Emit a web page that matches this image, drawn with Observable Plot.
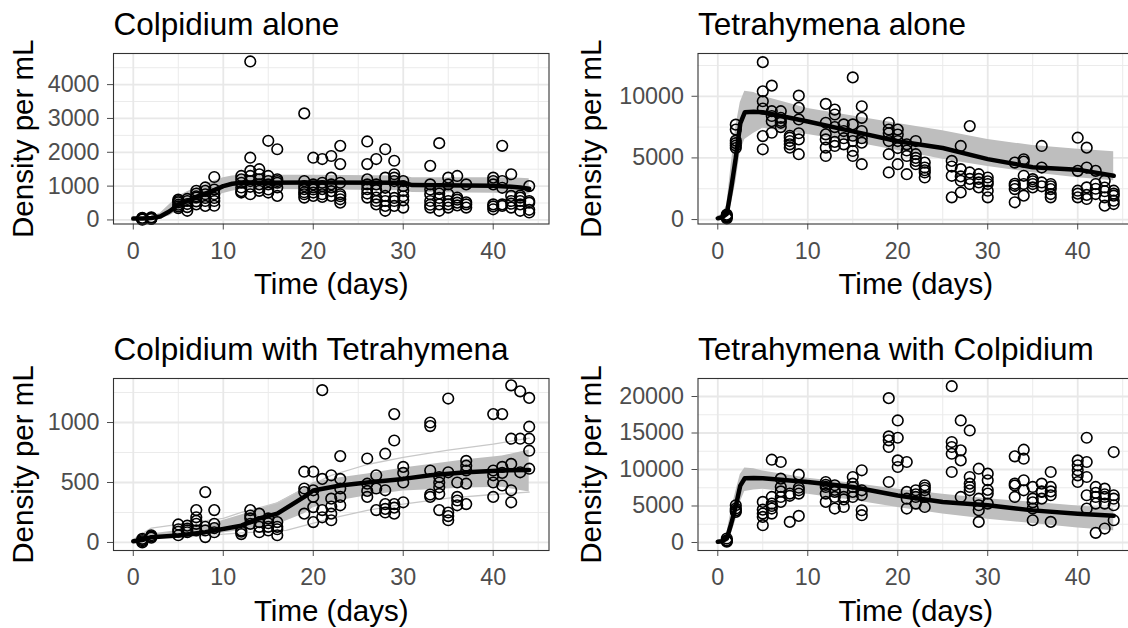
<!DOCTYPE html>
<html>
<head>
<meta charset="utf-8">
<script src="https://cdn.jsdelivr.net/npm/d3@7"></script>
<script src="https://cdn.jsdelivr.net/npm/@observablehq/plot@0.6"></script>
<style>
html, body { margin: 0; padding: 0; background: #fff; overflow: hidden; width: 1128px; height: 628px; }
#wrap { position: relative; width: 1128px; height: 628px; overflow: hidden; }
.panel { position: absolute; }
</style>
</head>
<body>
<div id="wrap"></div>
<script>
// ---------- text ----------
const panelTitles = ["Colpidium alone", "Tetrahymena alone", "Colpidium with Tetrahymena", "Tetrahymena with Colpidium"];
const xAxisTitle = "Time (days)";
const yAxisTitle = "Density per mL";

// ---------- ticks ----------
const xTicks = [0, 10, 20, 30, 40];
const xMinor = [5, 15, 25, 35, 45];
const yTicks1 = [0, 1000, 2000, 3000, 4000];
const yMinor1 = [500, 1500, 2500, 3500, 4500];
const yTicks2 = [0, 5000, 10000];
const yMinor2 = [2500, 7500, 12500];
const yTicks3 = [0, 500, 1000];
const yMinor3 = [250, 750, 1250];
const yTicks4 = [0, 5000, 10000, 15000, 20000];
const yMinor4 = [2500, 7500, 12500, 17500];

// ---------- observations: [day, [densities]] ----------
const colAloneObs = [
  [1, [20, 40, 60, 10, 50, 30]], [2, [30, 60, 50, 80, 40]],
  [5, [600, 520, 450, 400, 350, 560]], [6, [560, 470, 270, 380, 620]], [7, [860, 700, 660, 460, 550, 780]],
  [8, [960, 760, 560, 415, 650, 860]], [9, [1270, 760, 560, 420, 650, 900]],
  [12, [1300, 960, 810, 850, 1100, 1200]], [13, [4685, 1840, 1450, 1150, 760, 1300, 980]], [14, [1500, 1350, 1050, 860, 1200, 950]],
  [15, [2340, 1300, 1050, 810, 1150, 900]], [16, [2090, 1200, 960, 710, 1100, 1150]],
  [19, [3150, 1150, 910, 760, 660, 1000, 820]], [20, [1840, 960, 810, 710, 900, 1050]], [21, [1800, 1100, 910, 760, 680, 1000]],
  [22, [1890, 1250, 960, 710, 1050, 850]], [23, [2190, 1650, 760, 610, 510, 700, 1100]],
  [26, [2320, 1650, 1200, 910, 660, 1050, 780]], [27, [1800, 1050, 660, 460, 560, 880]], [28, [2090, 1250, 710, 415, 270, 560, 950]],
  [29, [1750, 1350, 1150, 560, 415, 650, 1250]], [30, [1150, 860, 580, 365, 1000, 700]],
  [33, [1600, 1050, 760, 560, 365, 450, 900]], [34, [2270, 910, 460, 270, 650, 780]], [35, [1250, 760, 460, 365, 560, 1050]],
  [36, [1300, 660, 510, 430, 600]], [37, [1050, 460, 365, 520]],
  [40, [1250, 1050, 460, 315, 1150, 400]], [41, [2190, 1150, 415, 460, 950]], [42, [1350, 710, 365, 560, 480]],
  [43, [660, 460, 270, 560, 720]], [44, [1000, 510, 220, 300, 560]]
];
const tetAloneObs = [
  [1, [300, 200, 400, 100, 250]], [2, [7700, 7300, 6200, 6000, 5800, 6400]],
  [5, [12770, 10400, 9600, 6770, 5700, 9000]], [6, [10860, 8790, 7980, 7040, 8400]], [7, [8790, 8250, 7850, 7500, 8000]],
  [8, [6640, 6370, 6100, 5830, 6800]], [9, [10050, 9060, 8120, 6500, 5300, 7000]],
  [12, [9380, 7850, 6910, 5830, 5160, 6500]], [13, [8920, 8520, 5970, 6300, 7500]], [14, [7720, 7180, 6100, 6600]],
  [15, [11530, 7720, 6370, 5560, 5160, 6800]], [16, [9190, 8250, 7180, 6240, 4490, 6600]],
  [19, [7850, 7300, 6370, 5300, 3820, 7000]], [20, [7300, 6370, 4490, 6900, 5800]], [21, [6100, 5160, 3680, 5600]],
  [22, [6370, 5300, 4760, 4490, 5000]], [23, [4620, 4220, 3820, 3410, 4000]],
  [26, [4760, 3550, 1800, 4300]], [27, [5970, 4090, 3150, 2200, 3500]], [28, [7580, 3820, 2880, 3300]],
  [29, [3680, 3010, 2610, 3300]], [30, [3410, 2880, 2340, 1800, 3100]],
  [33, [4620, 2740, 2470, 1400, 2900]], [34, [4890, 3550, 2880, 1940, 4700]], [35, [3280, 2880, 2610, 3100]],
  [36, [5970, 4220, 3010, 2700]], [37, [2880, 2470, 2070, 1800, 2700]],
  [40, [6640, 3950, 2340, 1800, 2100]], [41, [5830, 4220, 2610, 1670, 2000]], [42, [3950, 2880, 2070, 2500]],
  [43, [3150, 2600, 1800, 1130, 2300]], [44, [2340, 1940, 1530, 1260, 2100]]
];
const colMixObs = [
  [1, [10, 30, 0, 20]], [2, [60, 40, 50]],
  [5, [150, 110, 60, 90]], [6, [140, 115, 85, 100]], [7, [270, 210, 155, 100, 180]], [8, [420, 130, 45, 100]], [9, [270, 155, 85, 120]],
  [12, [100, 70, 90]], [13, [270, 225, 155, 200]], [14, [240, 170, 85, 130]], [15, [200, 130, 100, 160]], [16, [170, 130, 60, 110]],
  [19, [590, 420, 240, 450]], [20, [590, 435, 295, 170, 380]], [21, [1270, 530, 270, 210]], [22, [560, 365, 240, 185, 300]], [23, [720, 530, 380, 310, 450]],
  [26, [700, 490, 380, 430]], [27, [560, 270, 450]], [28, [740, 435, 320, 250, 280]], [29, [1070, 850, 320, 240, 290]], [30, [630, 500, 335, 580]],
  [33, [1000, 970, 600, 380, 400]], [34, [545, 460, 405, 270, 500]], [35, [1200, 585, 250, 185, 220]], [36, [500, 380, 310, 350]], [37, [680, 640, 490, 320, 600]],
  [40, [1070, 600, 500, 380, 560]], [41, [1070, 630, 475, 580]], [42, [1310, 865, 655, 435, 335]], [43, [1260, 865, 585]], [44, [1205, 965, 865, 765, 615]]
];
const tetMixObs = [
  [1, [550, 230, 100, 300]], [2, [5100, 4650, 4190, 4400]],
  [5, [5560, 3960, 3510, 2370, 4500]], [6, [11340, 6240, 5330, 4650, 3960, 5000]], [7, [11030, 8750, 7610, 6240, 5560, 7000]],
  [8, [6700, 2820, 6400]], [9, [9290, 7150, 6700, 3640, 7500]],
  [12, [8290, 7610, 6700, 5560, 7900]], [13, [7840, 6930, 6240, 4650, 7200]], [14, [6240, 4870, 5900]],
  [15, [8970, 8060, 6930, 6240, 7600]], [16, [9890, 7150, 4420, 3740, 6500]],
  [19, [19770, 14530, 13990, 13080, 8290]], [20, [16720, 14350, 11250, 10340]], [21, [11030, 6930, 4650, 6000]],
  [22, [7150, 6240, 5330, 6600]], [23, [7840, 7150, 6240, 4870, 7500]],
  [26, [21410, 13760, 13080, 12160, 9660]], [27, [16720, 12620, 11250, 6240]], [28, [15350, 8970, 8060, 7150, 7600]],
  [29, [10110, 5100, 4420, 2820, 6000]], [30, [9430, 8520, 6700, 5330, 7200]],
  [33, [11800, 8060, 6240, 7800]], [34, [12710, 11480, 8520, 7150]], [35, [7610, 6010, 4650, 3050, 5500]],
  [36, [8060, 6930, 6010, 7000]], [37, [9660, 7610, 6470, 2820, 7000]],
  [40, [11250, 10570, 9890, 9200, 8290]], [41, [14350, 11030, 8970, 6470, 4650]], [42, [7610, 6240, 5330, 1320, 6800]],
  [43, [7380, 6240, 5330, 1910, 6600]], [44, [12390, 6470, 5100, 3050, 6000]]
];

// ---------- model curves: mean (black) and simulation envelope (grey) ----------
const colAloneTimes = [0, 1, 2, 3, 4, 5, 6, 7, 8, 9, 10, 11, 12, 20, 30, 31, 40, 42, 43, 44];
const colAloneMean  = [40, 45, 60, 100, 250, 450, 560, 680, 780, 880, 1000, 1070, 1100, 1110, 1100, 1030, 1010, 980, 960, 920];
const colAloneLow   = [20, 25, 35, 50, 120, 280, 380, 480, 580, 680, 780, 850, 900, 890, 860, 810, 790, 780, 770, 760];
const colAloneHigh  = [70, 80, 100, 200, 450, 700, 830, 950, 1050, 1150, 1250, 1300, 1320, 1320, 1300, 1250, 1250, 1240, 1230, 1220];

const tetAloneTimes = [0, 0.5, 1, 1.5, 2, 2.5, 3, 4, 5, 10, 15, 20, 25, 30, 35, 40, 44];
const tetAloneMean  = [100, 190, 450, 2600, 5000, 7800, 8700, 8750, 8700, 7950, 7150, 6350, 5800, 4900, 4250, 4050, 3550];
const tetAloneLow   = [0, 50, 200, 1200, 3000, 5500, 6500, 7000, 7400, 6900, 6300, 5600, 4900, 4300, 3800, 3400, 3150];
const tetAloneHigh  = [300, 400, 1200, 4500, 7500, 9500, 10400, 10300, 10000, 9000, 8400, 7800, 7200, 6500, 6000, 5700, 5500];

const colMixTimes = [0, 1, 2, 5, 8, 12, 14, 16, 19, 20, 23, 26, 30, 33, 37, 41, 44];
const colMixMean  = [11, 20, 44, 58, 86, 140, 200, 240, 380, 433, 475, 500, 530, 560, 585, 600, 605];
const colMixLow   = [5, 10, 25, 40, 60, 100, 130, 150, 240, 290, 350, 390, 430, 440, 455, 460, 420];
const colMixHigh  = [25, 40, 70, 100, 140, 230, 280, 330, 450, 500, 540, 570, 620, 650, 690, 720, 770];
const colMixUpperTimes = [0, 2, 5, 10, 12, 16, 19, 22, 26, 30, 35, 40, 44];
const colMixUpper      = [25, 120, 150, 200, 250, 330, 450, 560, 650, 710, 770, 820, 870];
const colMixLowerTimes = [5, 12, 17, 22, 26, 30, 35, 40, 44];
const colMixLower      = [40, 80, 100, 200, 267, 320, 370, 400, 420];

const tetMixTimes = [0, 0.5, 1, 1.5, 2, 2.5, 3, 4, 5, 10, 15, 20, 25, 30, 35, 40, 44];
const tetMixMean  = [100, 180, 550, 2600, 5000, 7800, 8800, 8850, 8800, 8300, 7600, 6450, 5550, 5100, 4400, 3950, 3650];
const tetMixLow   = [0, 50, 200, 1200, 3000, 5500, 7000, 7200, 7300, 6600, 5800, 4800, 3900, 3200, 2600, 2000, 1600];
const tetMixHigh  = [300, 400, 1200, 4500, 7000, 9300, 10200, 10100, 9800, 8800, 8100, 7300, 6600, 6000, 5500, 5000, 4700];

// ---------- helpers ----------
const FONT = "'Liberation Sans', Arial, Helvetica, sans-serif";
const flatObs = obs => obs.flatMap(([day, vals]) => vals.map(v => ({day, density: v})));
const curve = (times, mean, low, high) => times.map((t, i) => ({t, mean: mean[i], low: low[i], high: high[i]}));
const pts = (times, vals) => times.map((t, i) => ({t, v: vals[i]}));

function makePanel(cfg) {
  const marks = [
    Plot.ruleX(xMinor, {stroke: "#ebebeb", strokeWidth: 1}),
    Plot.ruleY(cfg.yMinor, {stroke: "#ebebeb", strokeWidth: 1}),
    Plot.ruleX(xTicks, {stroke: "#e8e8e8", strokeWidth: 1.8}),
    Plot.ruleY(cfg.yTicks, {stroke: "#e8e8e8", strokeWidth: 1.8}),
    Plot.areaY(cfg.curve, {x: "t", y1: "low", y2: "high", fill: "#bebebe"}),
    ...(cfg.extra || []).map(d => Plot.line(d, {x: "t", y: "v", stroke: "#c8c8c8", strokeWidth: 1.3})),
    Plot.line(cfg.curve, {x: "t", y: "mean", stroke: "black", strokeWidth: 4.5}),
    Plot.dot(cfg.obs, {x: "day", y: "density", r: 5.3, stroke: "black", strokeWidth: 1.6, fill: "none"}),
    Plot.frame({stroke: "#333333", strokeWidth: 1.1}),
    Plot.text([cfg.title], {text: d => d, frameAnchor: "top-left", textAnchor: "start", lineAnchor: "bottom", dy: -19, fontSize: 31.5, fill: "black", fontFamily: FONT}),
    Plot.text([xAxisTitle], {text: d => d, frameAnchor: "bottom", textAnchor: "middle", lineAnchor: "bottom", dy: 70, fontSize: 29.5, fill: "black", fontFamily: FONT}),
    Plot.text([yAxisTitle], {text: d => d, frameAnchor: "left", textAnchor: "middle", lineAnchor: "middle", rotate: -90, dx: cfg.yLabelDx, fontSize: 29.5, fill: "black", fontFamily: FONT})
  ];
  const svg = Plot.plot({
    width: cfg.width, height: 314,
    marginLeft: cfg.ml, marginRight: cfg.mr, marginTop: cfg.mt, marginBottom: cfg.mb,
    style: {fontFamily: FONT, fontSize: "23.3px", color: "#4d4d4d", background: "white", maxWidth: "none", overflow: "visible"},
    x: {domain: [-2.2, 46.2], ticks: xTicks, tickSize: 6, tickPadding: 12, label: null, tickFormat: d => String(d)},
    y: {domain: cfg.yDomain, ticks: cfg.yTicks, tickSize: 6, tickPadding: 8, label: null, tickFormat: d => String(d)},
    marks
  });
  const div = document.createElement("div");
  div.className = "panel";
  div.style.left = cfg.left + "px";
  div.style.top = cfg.top + "px";
  div.style.width = cfg.width + "px";
  div.appendChild(svg);
  document.getElementById("wrap").appendChild(div);
}

makePanel({title: panelTitles[0], left: 0, top: 0, width: 564, ml: 113, mr: 15.5, mt: 53, mb: 90.5,
  yDomain: [-120, 4920], yTicks: yTicks1, yMinor: yMinor1, yLabelDx: -89.5,
  obs: flatObs(colAloneObs), curve: curve(colAloneTimes, colAloneMean, colAloneLow, colAloneHigh)});
makePanel({title: panelTitles[1], left: 564, top: 0, width: 574, ml: 133.5, mr: 5, mt: 53, mb: 90.5,
  yDomain: [-360, 13470], yTicks: yTicks2, yMinor: yMinor2, yLabelDx: -106.5,
  obs: flatObs(tetAloneObs), curve: curve(tetAloneTimes, tetAloneMean, tetAloneLow, tetAloneHigh)});
makePanel({title: panelTitles[2], left: 0, top: 314, width: 564, ml: 113, mr: 15.5, mt: 64, mb: 78,
  yDomain: [-67, 1367], yTicks: yTicks3, yMinor: yMinor3, yLabelDx: -89.5,
  obs: flatObs(colMixObs), curve: curve(colMixTimes, colMixMean, colMixLow, colMixHigh),
  extra: [pts(colMixUpperTimes, colMixUpper), pts(colMixLowerTimes, colMixLower)]});
makePanel({title: panelTitles[3], left: 564, top: 314, width: 574, ml: 133.5, mr: 5, mt: 64, mb: 78,
  yDomain: [-1096, 22466], yTicks: yTicks4, yMinor: yMinor4, yLabelDx: -106.5,
  obs: flatObs(tetMixObs), curve: curve(tetMixTimes, tetMixMean, tetMixLow, tetMixHigh)});
</script>
</body>
</html>
